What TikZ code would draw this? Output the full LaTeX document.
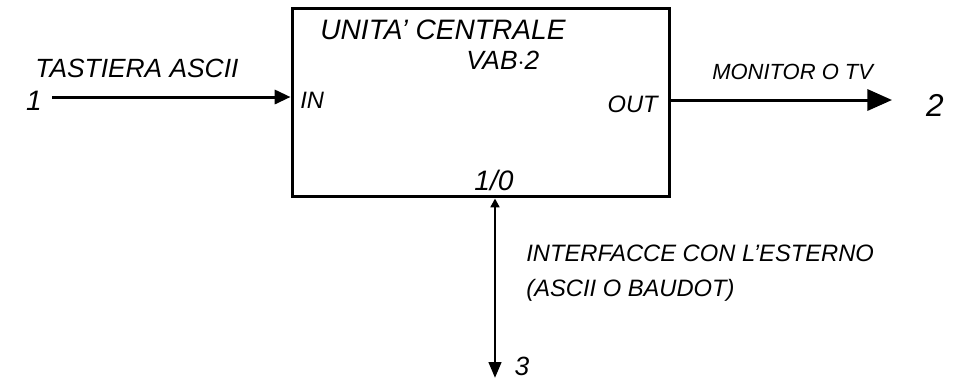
\documentclass[tikz,border=0pt]{standalone}
\usepackage{fontspec}
\setmainfont{Liberation Sans}
\usetikzlibrary{arrows.meta, positioning, calc}

\begin{document}
\begin{tikzpicture}[
  x=0.02cm, y=-0.02cm,
  hand/.style={font=\itshape\fontsize{13.5}{16}\selectfont, inner sep=0pt},
  flow/.style={-{Triangle[length=9pt, width=8pt]}, line width=1.7pt},
  unit/.style={draw, line width=1.7pt, minimum width=7.56cm, minimum height=3.78cm}
]
  \useasboundingbox (0,0) rectangle (957,380);

  \node[unit] (cpu) at (481, 102.5) {};
  \coordinate (kbd) at (52, 97);
  \coordinate (mon) at (892, 100);
  \coordinate (ext) at (495, 378);

  % etichette dentro il blocco
  \node[hand, anchor=west, font=\itshape\fontsize{16}{18}\selectfont] (title) at (320, 30) {UNITA' CENTRALE};
  \node[hand, anchor=west, font=\itshape\fontsize{15}{17}\selectfont] (model) at (466, 60) {VAB$\cdot$2};
  \node[hand, anchor=west] (in) at (300, 100) {IN};
  \node[hand, anchor=east] (out) at (658, 104) {OUT};
  \node[hand, font=\itshape\fontsize{16}{18}\selectfont] (io) at (494, 180) {1/0};

  % etichette esterne
  \node[hand, anchor=west, font=\itshape\fontsize{15}{17}\selectfont] (kbdlab) at (35, 68) {TASTIERA ASCII};
  \node[hand, font=\itshape\fontsize{16}{18}\selectfont] (n1) at (34, 101) {1};
  \node[hand, anchor=west, font=\itshape\fontsize{12.5}{15}\selectfont] (monlab) at (712, 72) {MONITOR O TV};
  \node[hand, font=\itshape\fontsize{18}{20}\selectfont] (n2) at (935, 105) {2};
  \node[hand, anchor=west] (extlab) at (526, 253) {INTERFACCE CON L'ESTERNO};
  \node[hand, anchor=west] (extlab2) at (526, 290) {(ASCII O BAUDOT)};
  \node[hand, font=\itshape\fontsize{15}{17}\selectfont] (n3) at (522, 366) {3};

  \draw[flow] (kbd) -- (kbd -| cpu.west);
  \draw[-{Triangle[length=14pt, width=12pt]}, line width=1.7pt] (cpu.east |- mon) -- (mon);
  \draw[{Triangle[length=5pt, width=5pt]}-{Triangle[length=9pt, width=7pt]}, line width=1.7pt]
    (cpu.south -| ext) -- (ext);
\end{tikzpicture}
\end{document}
